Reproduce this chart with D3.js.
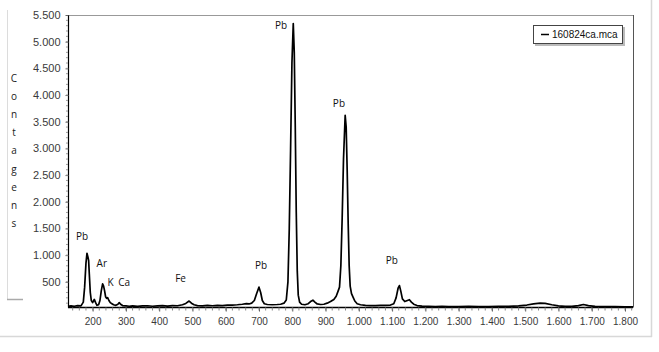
<!DOCTYPE html>
<html>
<head>
<meta charset="utf-8">
<script src="https://cdn.jsdelivr.net/npm/d3@7"></script>
<style>
  body { margin: 0; background: #fff; }
</style>
</head>
<body>
<div id="chart"></div>
<script>
var width = 659;
var height = 352;

// spectrum: channel / counts
var channels = [126, 135, 145, 155, 165, 172, 176, 180, 183, 186, 188, 190, 193, 196, 200, 205, 209, 213, 218, 222,
    226, 230, 233, 236, 239, 242, 245, 249, 253, 258, 263, 270, 276, 280, 284, 290, 300, 310, 320, 335,
    350, 365, 380, 395, 410, 425, 440, 455, 470, 480, 490, 497, 505, 515, 530, 545, 560, 575, 590, 605,
    620, 635, 650, 662, 670, 678, 686, 693, 700, 705, 710, 716, 725, 740, 755, 765, 775, 782, 787, 791,
    795, 799, 803, 806, 809, 812, 815, 818, 822, 828, 838, 848, 855, 862, 868, 875, 885, 895, 905, 915,
    925, 932, 938, 942, 946, 950, 954, 959, 962, 965, 968, 971, 974, 978, 983, 988, 995, 1005, 1020, 1035,
    1050, 1065, 1080, 1095, 1105, 1112, 1118, 1122, 1126, 1131, 1138, 1146, 1152, 1158, 1165, 1175, 1190, 1210, 1230, 1250,
    1270, 1300, 1330, 1360, 1390, 1420, 1450, 1480, 1505, 1525, 1545, 1560, 1580, 1600, 1620, 1640, 1660, 1675, 1690, 1710,
    1740, 1770, 1800, 1824];
var counts = [40, 48, 42, 55, 50, 120, 400, 850, 1035, 960, 900, 650, 300, 150, 110, 170, 110, 60, 70, 150,
    330, 460, 420, 330, 220, 190, 205, 150, 110, 90, 70, 60, 80, 110, 80, 55, 50, 42, 50, 40,
    48, 52, 42, 50, 55, 45, 55, 52, 70, 95, 140, 100, 70, 55, 50, 60, 52, 60, 55, 62,
    65, 70, 80, 90, 85, 100, 150, 280, 400, 300, 150, 90, 75, 70, 75, 80, 100, 160, 500, 1500,
    3000, 4600, 5340, 4800, 3400, 1800, 700, 250, 120, 80, 70, 90, 130, 155, 120, 85, 75, 80, 100, 130,
    170, 230, 330, 400, 800, 1700, 2800, 3620, 3400, 2600, 1600, 800, 420, 280, 210, 140, 90, 70, 60, 55,
    55, 60, 58, 65, 90, 200, 380, 430, 330, 180, 130, 150, 165, 120, 80, 55, 45, 40, 35, 40,
    35, 35, 40, 35, 35, 40, 40, 50, 65, 85, 100, 95, 70, 50, 40, 40, 55, 75, 55, 40,
    35, 35, 30, 30];

var yTicks = [500, 1000, 1500, 2000, 2500, 3000, 3500, 4000, 4500, 5000, 5500];
var xTicks = [200, 300, 400, 500, 600, 700, 800, 900, 1000, 1100, 1200, 1300, 1400, 1500, 1600, 1700, 1800];

var peakLabels = ["Pb", "Ar", "K", "Ca", "Fe", "Pb", "Pb", "Pb", "Pb"];
var peakX = [150, 212, 245, 277, 448, 688, 748, 922, 1081];
var peakY = [1280, 787, 431, 431, 493, 749, 5244, 3783, 843];

var yTitle = "Contagens";
var seriesName = "160824ca.mca";

var pLeft = 68, pRight = 633, pTop = 15, pBottom = 307.5;

var x = d3.scaleLinear().domain([126, 1824]).range([pLeft, pRight]);
var y = d3.scaleLinear().domain([0, 5500]).range([308.5, pTop]);

var loc = d3.formatLocale({decimal: ",", thousands: ".", grouping: [3], currency: ["", ""]});
var fmt = loc.format(",d");

var svg = d3.select("#chart").append("svg")
    .attr("width", width)
    .attr("height", height);

// outer frame shadow (right + bottom)
svg.append("line").attr("x1", 651.5).attr("x2", 651.5).attr("y1", 0).attr("y2", 337)
    .attr("stroke", "#d8d8d8").attr("stroke-width", 1.5);
svg.append("line").attr("x1", 0).attr("x2", 652).attr("y1", 336.5).attr("y2", 336.5)
    .attr("stroke", "#d8d8d8").attr("stroke-width", 1.5);

// y title box
svg.append("line").attr("x1", 7.5).attr("x2", 7.5).attr("y1", 10).attr("y2", 299)
    .attr("stroke", "#dcdcdc");
svg.append("line").attr("x1", 7).attr("x2", 23).attr("y1", 299.5).attr("y2", 299.5)
    .attr("stroke", "#aaa").attr("stroke-width", 1.5);

svg.append("g")
    .attr("font-family", "'Open Sans', sans-serif")
    .attr("font-size", 10)
    .attr("fill", "#222")
    .selectAll("text")
    .data(yTitle.split(""))
    .join("text")
    .attr("x", 14)
    .attr("y", (d, i) => 82 + i * 18.1)
    .attr("text-anchor", "middle")
    .text(d => d);

// plot frame: top + right
svg.append("line").attr("x1", pLeft).attr("x2", pRight).attr("y1", pTop + 0.5).attr("y2", pTop + 0.5)
    .attr("stroke", "#999");
svg.append("line").attr("x1", pRight + 0.5).attr("x2", pRight + 0.5).attr("y1", pTop).attr("y2", pBottom)
    .attr("stroke", "#555");

// y axis
var yAxis = svg.append("g")
    .attr("transform", "translate(" + (pLeft + 0.5) + ",0)")
    .call(d3.axisLeft(y).tickValues(yTicks).tickFormat(fmt).tickSize(3).tickPadding(5));
yAxis.select(".domain").attr("d", "M0," + pTop + "V" + pBottom).attr("stroke", "#000").attr("stroke-width", 1.2);
yAxis.selectAll("text").attr("font-family", "Arial, 'Liberation Sans', sans-serif")
    .attr("font-size", 11).attr("fill", "#3a3a3a");
yAxis.selectAll(".tick line").attr("stroke", "#666");
svg.append("g")
    .selectAll("line")
    .data(d3.range(100, 5500, 100))
    .join("line")
    .attr("x1", pLeft - 2).attr("x2", pLeft)
    .attr("y1", d => y(d)).attr("y2", d => y(d))
    .attr("stroke", "#999");

// x axis
var xAxis = svg.append("g")
    .attr("transform", "translate(0," + pBottom + ")")
    .call(d3.axisBottom(x).tickValues(xTicks).tickFormat(fmt).tickSize(4).tickPadding(6));
xAxis.select(".domain").attr("d", "M" + pLeft + ",0H" + pRight).attr("stroke", "#000").attr("stroke-width", 1.5);
xAxis.selectAll("text").attr("font-family", "Arial, 'Liberation Sans', sans-serif")
    .attr("font-size", 10).attr("fill", "#3a3a3a");
xAxis.selectAll(".tick line").attr("stroke", "#555");
svg.append("g")
    .selectAll("line")
    .data(d3.range(140, 1824, 20))
    .join("line")
    .attr("x1", d => x(d)).attr("x2", d => x(d))
    .attr("y1", pBottom).attr("y2", pBottom + 3)
    .attr("stroke", "#888");

// spectrum
var pts = channels.map((c, i) => [c, counts[i]]);
var line = d3.line()
    .x(d => x(d[0]))
    .y(d => y(d[1]));

svg.append("path")
    .datum(pts)
    .attr("fill", "none")
    .attr("stroke", "#000")
    .attr("stroke-width", 1.7)
    .attr("stroke-linejoin", "round")
    .attr("d", line);

// peak labels
svg.append("g")
    .attr("font-family", "'Open Sans', sans-serif")
    .attr("font-size", 10)
    .attr("fill", "#111")
    .selectAll("text")
    .data(peakLabels)
    .join("text")
    .attr("x", (d, i) => x(peakX[i]))
    .attr("y", (d, i) => y(peakY[i]))
    .text(d => d);

// legend
var lg = svg.append("g").attr("transform", "translate(533,25)");
lg.append("rect").attr("x", 2).attr("y", 2).attr("width", 90).attr("height", 19).attr("fill", "#bbb");
lg.append("rect").attr("x", 0.5).attr("y", 0.5).attr("width", 89).attr("height", 18)
    .attr("fill", "#fff").attr("stroke", "#444");
lg.append("line").attr("x1", 8).attr("x2", 16).attr("y1", 9.5).attr("y2", 9.5)
    .attr("stroke", "#000").attr("stroke-width", 1.5);
lg.append("text").attr("x", 19).attr("y", 13)
    .attr("font-family", "Arial, 'Liberation Sans', sans-serif")
    .attr("font-size", 10)
    .attr("fill", "#111")
    .text(seriesName);
</script>
</body>
</html>
